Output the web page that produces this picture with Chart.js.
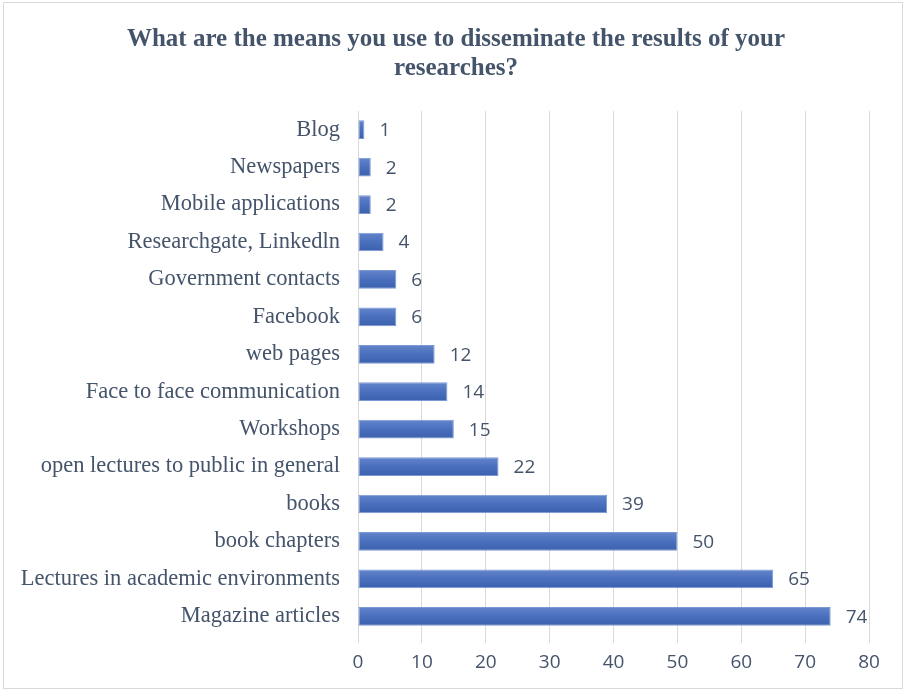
<!DOCTYPE html>
<html>
<head>
<meta charset="utf-8">
<script src="https://cdn.jsdelivr.net/npm/chart.js@4.4.0/dist/chart.umd.min.js"></script>
<style>
  html, body { margin: 0; padding: 0; background: #fff; }
  #wrap { width: 905px; height: 691px; position: relative; }
</style>
</head>
<body>
<div id="wrap"><canvas id="myChart"></canvas></div>
<script>
let titleLines = ['What are the means you use to disseminate the results of your', 'researches?'];

let categories = [
    'Blog',
    'Newspapers',
    'Mobile applications',
    'Researchgate, Linkedln',
    'Government contacts',
    'Facebook',
    'web pages',
    'Face to face communication',
    'Workshops',
    'open lectures to public in general',
    'books',
    'book chapters',
    'Lectures in academic environments',
    'Magazine articles'
];

let counts = [1, 2, 2, 4, 6, 6, 12, 14, 15, 22, 39, 50, 65, 74];

let xTicks = [0, 10, 20, 30, 40, 50, 60, 70, 80];

let textColor = '#44546A';
let gridColor = '#D9D9D9';

// shade each bar lighter on top, darker at the bottom
let barShading = {
    id: 'barShading',
    beforeDatasetsDraw(chart) {
        let ctx = chart.ctx;
        chart.getDatasetMeta(0).data.forEach((bar) => {
            let top = bar.y - bar.height / 2;
            let g = ctx.createLinearGradient(0, top, 0, top + bar.height);
            g.addColorStop(0, '#6385CC');
            g.addColorStop(0.5, '#4A6FBD');
            g.addColorStop(1, '#3B60AE');
            bar.options.backgroundColor = g;
        });
    }
};

// value printed right of every bar
let valueLabels = {
    id: 'valueLabels',
    afterDatasetsDraw(chart) {
        let ctx = chart.ctx;
        ctx.save();
        ctx.font = '19px "Open Sans", "Liberation Sans", sans-serif';
        ctx.fillStyle = textColor;
        ctx.textAlign = 'left';
        ctx.textBaseline = 'middle';
        chart.getDatasetMeta(0).data.forEach((bar, i) => {
            ctx.fillText(String(counts[i]), bar.x + 15, bar.y + 1);
        });
        ctx.restore();
    }
};

// two-line heading, centred on the whole canvas rather than the plot
let heading = {
    id: 'heading',
    afterDraw(chart) {
        let ctx = chart.ctx;
        ctx.save();
        ctx.font = 'bold 25px "Liberation Serif", "Times New Roman", serif';
        ctx.fillStyle = textColor;
        ctx.textAlign = 'center';
        ctx.textBaseline = 'middle';
        titleLines.forEach((line, i) => {
            ctx.fillText(line, 456, 40 + i * 29);
        });
        ctx.restore();
    }
};

// thin frame round the whole chart
let frame = {
    id: 'frame',
    afterDraw(chart) {
        let ctx = chart.ctx;
        ctx.save();
        ctx.strokeStyle = '#D9D9D9';
        ctx.lineWidth = 1;
        ctx.strokeRect(3.5, 2.5, chart.width - 6, chart.height - 5);
        ctx.restore();
    }
};

let ctx = document.getElementById('myChart');

let myChart = new Chart(ctx, {
    type: 'bar',
    data: {
        labels: categories,
        datasets: [{
            data: counts,
            // a function keeps every bar's options separate, so each gets its own gradient
            backgroundColor: () => '#4472C4',
            borderColor: () => '#7C98D3',
            borderWidth: 1,
            borderSkipped: false,
            barPercentage: 0.5,
            categoryPercentage: 1
        }]
    },
    options: {
        indexAxis: 'y',
        responsive: true,
        maintainAspectRatio: false,
        animation: false,
        layout: {
            padding: { left: 0, right: 36, top: 111, bottom: 0 }
        },
        scales: {
            x: {
                min: 0,
                max: 80,
                afterBuildTicks: (scale) => {
                    scale.ticks = xTicks.map((v) => ({ value: v }));
                },
                afterFit: (scale) => {
                    scale.height = 56;
                },
                grid: {
                    color: gridColor,
                    lineWidth: 1,
                    drawTicks: true,
                    tickLength: 8
                },
                border: { display: false },
                ticks: {
                    color: textColor,
                    padding: 8,
                    font: { family: '"Open Sans", "Liberation Sans", sans-serif', size: 19 }
                }
            },
            y: {
                afterFit: (scale) => {
                    scale.width = 358;
                },
                grid: { display: false, drawTicks: false },
                border: { display: true, color: gridColor },
                ticks: {
                    color: textColor,
                    padding: 18,
                    autoSkip: false,
                    font: { family: '"Liberation Serif", "Times New Roman", serif', size: 22.5 }
                }
            }
        },
        plugins: {
            legend: { display: false },
            tooltip: { enabled: false },
            title: { display: false }
        }
    },
    plugins: [barShading, valueLabels, heading, frame]
});
</script>
</body>
</html>
